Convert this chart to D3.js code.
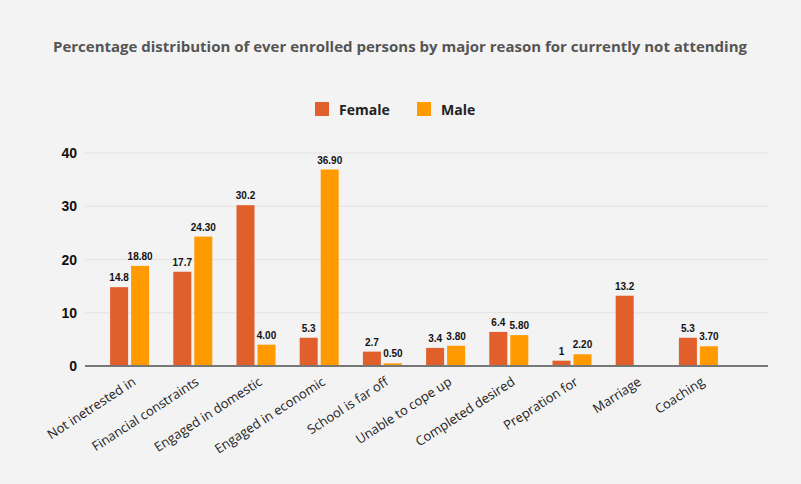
<!DOCTYPE html><html><head><script src="https://cdn.jsdelivr.net/npm/d3@7"></script>
<style>body{margin:0;background:#f3f3f3}</style></head><body><svg width="801" height="484"></svg>
<script>
const categories=["Not inetrested in","Financial constraints","Engaged in domestic","Engaged in economic","School is far off","Unable to cope up","Completed desired","Prepration for","Marriage","Coaching"];
const female=[14.8,17.7,30.2,5.3,2.7,3.4,6.4,1,13.2,5.3];
const femaleLabels=["14.8","17.7","30.2","5.3","2.7","3.4","6.4","1","13.2","5.3"];
const male=[18.8,24.3,4.0,36.9,0.5,3.8,5.8,2.2,null,3.7];
const yTicks=[0,10,20,30,40];
const svg=d3.select("svg");
svg.append("rect").attr("width",801).attr("height",484).attr("fill","#f3f3f3");
svg.append("text").attr("x",400).attr("y",52).attr("text-anchor","middle").attr("font-family","Open Sans").attr("font-weight","bold").attr("font-size",15).attr("fill","#555").text("Percentage distribution of ever enrolled persons by major reason for currently not attending");
const colors={Female:"#e15f2a",Male:"#ff9a00"};
const lg=[["Female",315],["Male",417]];
lg.forEach(([n,x])=>{svg.append("rect").attr("x",x).attr("y",102).attr("width",14).attr("height",14).attr("fill",colors[n]);
svg.append("text").attr("x",x+24).attr("y",115).attr("font-family","Open Sans").attr("font-weight","bold").attr("font-size",14).attr("fill","#222").text(n);});
const y=d3.scaleLinear().domain([0,40]).range([366,153]);
const x=d3.scaleBand().domain(categories).range([98,730]).paddingInner(0);
yTicks.forEach(t=>{svg.append("line").attr("x1",85).attr("x2",768).attr("y1",y(t)).attr("y2",y(t)).attr("stroke","#e2e2e2");
svg.append("text").attr("x",77).attr("y",y(t)+5).attr("text-anchor","end").attr("font-family","Arial").attr("font-weight","bold").attr("font-size",14).attr("fill","#111").text(t);});
const g=svg.append("g");
const fw=18;
categories.forEach((c,i)=>{
 const cx=x(c)+x.bandwidth()/2;
 g.append("rect").attr("x",cx-fw-1.5).attr("width",fw).attr("y",y(female[i])).attr("height",y(0)-y(female[i])).attr("fill",colors.Female);
 g.append("text").attr("x",cx-fw/2-1.5).attr("y",y(female[i])-6).attr("text-anchor","middle").attr("font-family","Arial").attr("font-weight","bold").attr("font-size",10).attr("fill","#111").text(femaleLabels[i]);
 if(male[i]!=null){
 g.append("rect").attr("x",cx+1.5).attr("width",fw).attr("y",y(male[i])).attr("height",y(0)-y(male[i])).attr("fill",colors.Male);
 g.append("text").attr("x",cx+fw/2+1.5).attr("y",y(male[i])-6).attr("text-anchor","middle").attr("font-family","Arial").attr("font-weight","bold").attr("font-size",10).attr("fill","#111").text(male[i].toFixed(2));}
 svg.append("text").attr("transform",`translate(${cx+7},${384}) rotate(-33)`).attr("text-anchor","end").attr("font-family","Open Sans").attr("font-size",13).attr("fill","#222").text(c);
});
svg.append("line").attr("x1",85).attr("x2",768).attr("y1",y(0)).attr("y2",y(0)).attr("stroke","#777").attr("stroke-width",2);
</script></body></html>
